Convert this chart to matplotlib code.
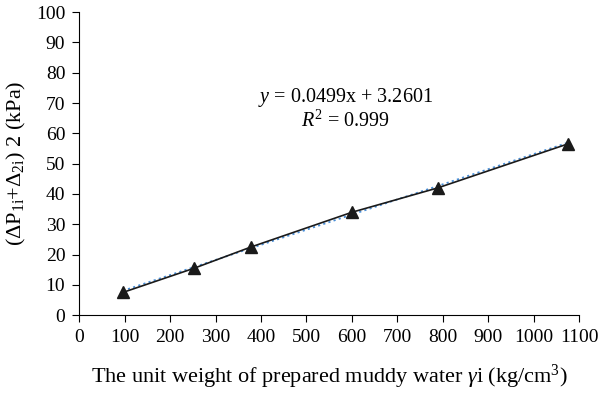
import matplotlib
matplotlib.use("Agg")
import matplotlib.pyplot as plt
import numpy as np

# Data
unit_weight = [96, 253, 378, 601, 789, 1075]
pressure = [7.5, 15.5, 22.5, 34.0, 42.0, 56.5]
fit_slope = 0.0499
fit_intercept = 3.2601

plt.rcParams['font.family'] = ['Liberation Serif', 'DejaVu Serif']
plt.rcParams['mathtext.fontset'] = 'custom'
plt.rcParams['mathtext.rm'] = 'Liberation Serif'
plt.rcParams['mathtext.it'] = 'Liberation Serif:italic'

fig = plt.figure(figsize=(6, 3.93), dpi=100)
ax = fig.add_axes([0.132, 0.198, 0.833, 0.771])

# linear trend line (dotted blue)
x_fit = np.array([unit_weight[0], unit_weight[-1]])
ax.plot(x_fit, fit_slope * x_fit + fit_intercept, linestyle=(0, (1.2, 1.8)),
        color='#4a8fd8', linewidth=1.3, zorder=2)

ax.plot(unit_weight, pressure, color='#1a1a1a', linewidth=1.2,
        marker='^', markersize=9, markerfacecolor='#1a1a1a',
        markeredgecolor='#1a1a1a', zorder=3)

ax.text(587, 72, r'$y$ = 0.0499x + 3.2601', ha='center', va='center', fontsize=14.5)
ax.text(587, 64, r'$R^2$ = 0.999', ha='center', va='center', fontsize=14.5)

ax.set_xlim(0, 1100)
ax.set_ylim(0, 100)
ax.set_xticks(np.arange(0, 1101, 100))
ax.set_yticks(np.arange(0, 101, 10))
ax.spines['top'].set_visible(False)
ax.spines['right'].set_visible(False)
ax.tick_params(direction='out', length=5, width=0.8, labelsize=14, pad=5)

ax.set_xlabel(r'The unit weight of prepared muddy water $\gamma$i (kg/cm$^3$)',
              fontsize=16, labelpad=12)
ax.set_ylabel(r'($\Delta$P$_{1\mathrm{i}}$+$\Delta_{2\mathrm{i}}$) 2 (kPa)',
              fontsize=16, labelpad=6)

fig.savefig('out.png', dpi=100)
